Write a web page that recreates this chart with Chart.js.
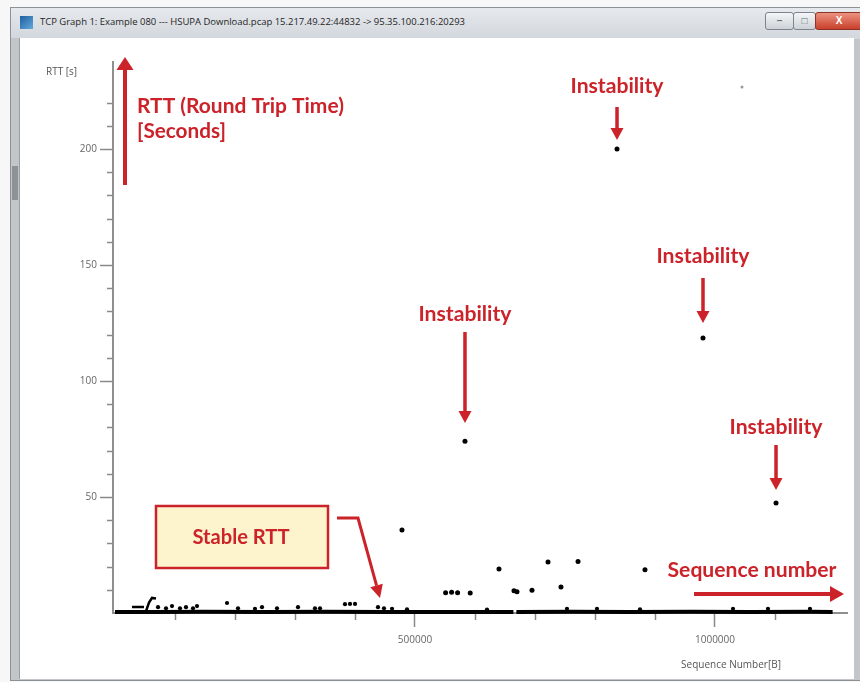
<!DOCTYPE html>
<html>
<head>
<meta charset="utf-8">
<script src="https://cdn.jsdelivr.net/npm/chart.js@4.4.1/dist/chart.umd.min.js"></script>
<style>
html,body{margin:0;padding:0;background:#fff;overflow:hidden;}
#wrap{position:relative;width:860px;height:682px;background:#f7f7f7;overflow:hidden;}
#win{position:absolute;left:10px;top:7px;width:849px;height:672px;background:linear-gradient(180deg,#e6e9ed 0,#d2d7dd 31px,#c3c7cb 31px);border:1px solid #8c9196;border-right-color:#b9bdc1;}
#content{position:absolute;left:20px;top:38px;width:834px;height:641px;background:#fff;}
#lband{position:absolute;left:11px;top:38px;width:8px;height:641px;background:#c3c6c9;border-right:1px solid #9a9ea2;}
#scroll{position:absolute;left:12px;top:166px;width:6px;height:34px;background:#8d9297;}
#icon{position:absolute;left:20px;top:16px;width:13px;height:13px;background:linear-gradient(135deg,#1f5f9e,#62a8dc);}
#title{position:absolute;left:40px;top:15px;font-family:"Open Sans";font-size:10px;color:#1e1e1e;white-space:nowrap;line-height:14px;}
.btn{position:absolute;top:12px;height:16px;border:1px solid #7d848b;border-radius:3px;background:linear-gradient(#f4f6f8,#cdd2d7);font:bold 10px "Liberation Sans";color:#6b7076;text-align:center;line-height:16px;}
#bmin{left:765px;width:27px;}
#bmax{left:793px;width:21px;}
#bclose{left:815px;width:46px;background:linear-gradient(#ec9280,#c8402b);border-color:#8e3325;color:#fff;}
canvas{position:absolute;left:0;top:0;}
</style>
</head>
<body>
<div id="wrap">
  <div id="win"></div>
  <div id="lband"></div>
  <div id="scroll"></div>
  <div id="content"></div>
  <div id="icon"></div>
  <div id="title">TCP Graph 1: Example 080 --- HSUPA Download.pcap 15.217.49.22:44832 -&gt; 95.35.100.216:20293</div>
  <div class="btn" id="bmin">&#8211;</div>
  <div class="btn" id="bmax">&#9633;</div>
  <div class="btn" id="bclose">X</div>
  <canvas id="c" width="860" height="682"></canvas>
</div>
<script>
// ---------------- data ----------------
// main stable RTT trace (sequence number [B], RTT [s]); null = small gap
const baselineSeq = [0, 60000, 150000, 250000, 350000, 450000, 550000, 664000, 666500, 669000, 760000, 860000, 960000, 1060000, 1160000, 1196000];
const baselineRtt = [0.4, 0.4, 0.5, 0.4, 0.5, 0.4, 0.4, 0.4, null, 0.4, 0.5, 0.4, 0.5, 0.4, 0.5, 0.4];

// early hook at the start of the trace
const hookSeq = [28300, 48300, 49000, 51700, 56700, 61700, 68300];
const hookRtt = [2.6, 2.6, null, 0.8, 4.5, 6.5, 6.3];

// small bumps sitting on the baseline
const bumpSeq = [71700, 85000, 95000, 108300, 118300, 130000, 136700, 186700, 205000, 233300, 245000, 270000, 305000, 333300, 341700, 383300, 391700, 400000, 438300, 448300, 461700, 486700, 620000, 753300, 803300, 875000, 1030000, 1088300, 1158300];
const bumpRtt = [2.5, 2.0, 3.0, 2.0, 2.5, 2.0, 3.0, 4.3, 2.0, 1.8, 2.5, 2.0, 2.5, 2.0, 2.0, 3.8, 3.9, 3.9, 2.5, 2.0, 1.8, 1.6, 1.5, 1.8, 1.8, 1.6, 1.8, 1.8, 1.8];

// isolated RTT samples
const outlierSeq = [478300, 551000, 561000, 571000, 592000, 583300, 640000, 665000, 670000, 695000, 721700, 743300, 771700, 836700, 883300, 980000, 1101700];
const outlierRtt = [35.8, 8.7, 8.9, 8.7, 8.6, 74.0, 19.0, 9.6, 9.2, 9.8, 22.0, 11.2, 22.2, 200.0, 18.6, 118.5, 47.4];

// faint grey sample near the top
const faintSeq = [1045000];
const faintRtt = [226.7];

// axis ticks
const xMajorTicks = [500000, 1000000];
const xMinorTicks = [100000, 200000, 300000, 400000, 600000, 700000, 800000, 900000, 1100000];
const yMajorTicks = [50, 100, 150, 200];
const yMinorTicks = [10, 20, 30, 40, 60, 70, 80, 90, 110, 120, 130, 140, 160, 170, 180, 190, 210, 220];

// annotation texts
const yAxisTitle = 'RTT [s]';
const xAxisTitle = 'Sequence Number[B]';
const rttNoteLines = ['RTT (Round Trip Time)', '[Seconds]'];
const stableNote = 'Stable RTT';
const seqNote = 'Sequence number';
const instabilityNote = 'Instability';
const instabilityIdx = [13, 15, 5, 16]; // indices into outlier arrays

// ---------------- helpers ----------------
const pts = (xs, ys) => xs.map((x, i) => ({x: x, y: ys[i]}));
const RED = '#cc2229';
const FONT = 'Lato';

function fitSize(ctx, text, target, weight) {
  ctx.font = weight + ' 100px ' + FONT;
  return 100 * target / ctx.measureText(text).width;
}
function arrowHead(ctx, x1, y1, x2, y2, hl, hw) {
  const a = Math.atan2(y2 - y1, x2 - x1);
  const bx = x2 - hl * Math.cos(a), by = y2 - hl * Math.sin(a);
  ctx.beginPath();
  ctx.moveTo(x2, y2);
  ctx.lineTo(bx + hw / 2 * Math.sin(a), by - hw / 2 * Math.cos(a));
  ctx.lineTo(bx - hw / 2 * Math.sin(a), by + hw / 2 * Math.cos(a));
  ctx.closePath();
  ctx.fill();
  return [bx, by];
}
function arrow(ctx, path, w, hl, hw) {
  const n = path.length;
  const [x1, y1] = path[n - 2], [x2, y2] = path[n - 1];
  ctx.fillStyle = RED; ctx.strokeStyle = RED; ctx.lineWidth = w; ctx.lineJoin = 'miter'; ctx.lineCap = 'butt';
  const base = arrowHead(ctx, x1, y1, x2, y2, hl, hw);
  ctx.beginPath();
  ctx.moveTo(path[0][0], path[0][1]);
  for (let i = 1; i < n - 1; i++) ctx.lineTo(path[i][0], path[i][1]);
  ctx.lineTo(base[0] + (x2 - x1) * 0.001, base[1] + (y2 - y1) * 0.001);
  ctx.stroke();
}
function redText(ctx, text, x, y, target, align) {
  const s = fitSize(ctx, text, target, 'bold');
  ctx.font = 'bold ' + s.toFixed(2) + 'px ' + FONT;
  ctx.fillStyle = RED;
  ctx.textAlign = align || 'center';
  ctx.textBaseline = 'middle';
  ctx.fillText(text, x, y);
}

// fit title bar text width
(function () {
  const t = document.getElementById('title');
  const cx = document.createElement('canvas').getContext('2d');
  cx.font = '100px "Open Sans"';
  const w = cx.measureText(t.textContent).width;
  t.style.fontSize = (100 * 425 / w).toFixed(2) + 'px';
})();

const decor = {
  id: 'decor',
  beforeDatasetsDraw(chart) {
    const ctx = chart.ctx, xs = chart.scales.x, ys = chart.scales.y, a = chart.chartArea;
    ctx.save();
    ctx.strokeStyle = '#8a8a8a'; ctx.lineWidth = 1.5;
    yMinorTicks.forEach(v => { const p = Math.round(ys.getPixelForValue(v)) + 0.5; ctx.beginPath(); ctx.moveTo(a.left - 6, p); ctx.lineTo(a.left, p); ctx.stroke(); });
    xMinorTicks.forEach(v => { const p = Math.round(xs.getPixelForValue(v)) + 0.5; ctx.beginPath(); ctx.moveTo(p, a.bottom); ctx.lineTo(p, a.bottom + 7); ctx.stroke(); });
    ctx.fillStyle = '#555';
    ctx.font = '10px "Open Sans"';
    ctx.textBaseline = 'middle';
    ctx.textAlign = 'left';
    ctx.fillText(yAxisTitle, 46, 72);
    ctx.textAlign = 'center';
    ctx.fillText(xAxisTitle, 731, 665);
    ctx.restore();
  },
  afterDraw(chart) {
    const ctx = chart.ctx, xs = chart.scales.x, ys = chart.scales.y;
    ctx.save();
    // RTT axis note
    arrow(ctx, [[125, 185], [125, 57]], 4, 13, 17);
    redText(ctx, rttNoteLines[0], 137, 106, 207, 'left');
    redText(ctx, rttNoteLines[1], 137, 131, 89, 'left');
    // instability notes
    const textY = [86, 256, 314, 427];
    const arrowY = [[107, 140], [278, 323], [332, 423], [445, 490]];
    instabilityIdx.forEach((k, i) => {
      const px = xs.getPixelForValue(outlierSeq[k]);
      redText(ctx, instabilityNote, px, textY[i], 93);
      arrow(ctx, [[px, arrowY[i][0]], [px, arrowY[i][1]]], 3.5, 12, 13);
    });
    // stable RTT box
    ctx.fillStyle = '#fdf3cc';
    ctx.fillRect(156, 506, 172, 62);
    ctx.strokeStyle = RED; ctx.lineWidth = 2.5;
    ctx.strokeRect(156, 506, 172, 62);
    redText(ctx, stableNote, 241, 538, 97);
    arrow(ctx, [[337, 518], [358, 518], [380, 598]], 3, 13, 13);
    // sequence number note
    redText(ctx, seqNote, 752, 570, 169);
    arrow(ctx, [[694, 594], [844, 594]], 4, 14, 16);
    ctx.restore();
  }
};

new Chart(document.getElementById('c'), {
  type: 'scatter',
  data: {
    datasets: [
      {label: 'baseline', type: 'line', data: pts(baselineSeq, baselineRtt), borderColor: '#000', borderWidth: 4, pointRadius: 0, spanGaps: false, clip: false, tension: 0},
      {label: 'hook', type: 'line', data: pts(hookSeq, hookRtt), borderColor: '#000', borderWidth: 2.5, pointRadius: 0, spanGaps: false, clip: false, tension: 0},
      {label: 'bumps', data: pts(bumpSeq, bumpRtt), pointRadius: 2.1, backgroundColor: '#000', borderWidth: 0, clip: false},
      {label: 'outliers', data: pts(outlierSeq, outlierRtt), pointRadius: 2.5, backgroundColor: '#000', borderWidth: 0, clip: false},
      {label: 'faint', data: pts(faintSeq, faintRtt), pointRadius: 1.5, backgroundColor: '#9a9a9a', borderWidth: 0, clip: false}
    ]
  },
  options: {
    responsive: false,
    animation: false,
    devicePixelRatio: 1,
    layout: {padding: {left: 0, top: 62, right: 13, bottom: 0}},
    plugins: {legend: {display: false}, tooltip: {enabled: false}},
    scales: {
      x: {
        type: 'linear', min: -3333, max: 1220000,
        afterFit: s => { s.height = 69; },
        afterBuildTicks: s => { s.ticks = xMajorTicks.map(v => ({value: v})); },
        grid: {drawOnChartArea: false, drawTicks: true, tickLength: 14, tickColor: '#8a8a8a', tickWidth: 1.5},
        border: {display: true, color: '#8f8f8f', width: 2},
        ticks: {color: '#666', font: {family: 'Open Sans', size: 10}, padding: 7, maxRotation: 0, autoSkip: false, callback: v => String(v)}
      },
      y: {
        type: 'linear', min: 0, max: 237.5,
        afterFit: s => { s.width = 113; },
        afterBuildTicks: s => { s.ticks = yMajorTicks.map(v => ({value: v})); },
        grid: {drawOnChartArea: false, drawTicks: true, tickLength: 13, tickColor: '#8a8a8a', tickWidth: 1.5},
        border: {display: true, color: '#8f8f8f', width: 2},
        ticks: {color: '#666', font: {family: 'Open Sans', size: 10}, padding: 3, autoSkip: false, callback: v => String(v)}
      }
    }
  },
  plugins: [decor]
});
</script>
</body>
</html>
